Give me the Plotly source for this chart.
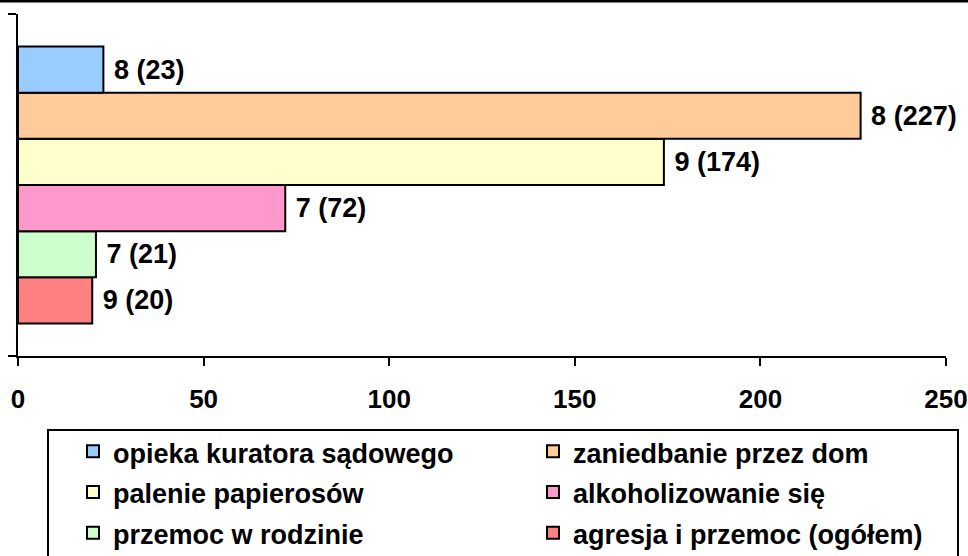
import plotly.graph_objects as go

# Data (top to bottom as displayed)
categories = ["opieka kuratora sądowego", "zaniedbanie przez dom", "palenie papierosów",
              "alkoholizowanie się", "przemoc w rodzinie", "agresja i przemoc (ogółem)"]
values = [23, 227, 174, 72, 21, 20]
counts = [8, 8, 9, 7, 7, 9]
colors = ["#99CCFF", "#FFCC99", "#FFFFCC", "#FF99CC", "#CCFFCC", "#FF8080"]
x_ticks = [0, 50, 100, 150, 200, 250]

W, H = 968, 556
L, R, T, B = 18, 22, 14, 200
PW, PH = W - L - R, H - T - B

def px_x(p):
    return (p - L) / PW

def px_y(p):
    return (H - B - p) / PH

FONT = "Liberation Sans, Arial, sans-serif"

fig = go.Figure()
# plotly draws the first trace at the bottom, so add in reverse order
for name, v, n, c in reversed(list(zip(categories, values, counts, colors))):
    fig.add_trace(go.Bar(
        y=[0], x=[v], orientation="h",
        name=f"<span style='font-size:27px'>{name}</span>",
        marker=dict(color=c, line=dict(color="black", width=2)),
        text=[f" {n} ({v})"], textposition="outside", constraintext="none",
        textfont=dict(family=FONT, size=27, color="black", weight="bold"),
        cliponaxis=False, hoverinfo="skip",
    ))

fig.update_layout(
    width=W, height=H,
    margin=dict(l=L, r=R, t=T, b=B, autoexpand=False),
    paper_bgcolor="white", plot_bgcolor="white",
    barmode="group", bargap=0.19, bargroupgap=0,
    font=dict(family=FONT, size=26, color="black", weight="bold"),
    xaxis=dict(range=[0, 250], tickvals=x_ticks, ticks="outside", ticklen=8, tickwidth=2,
               tickcolor="black", showline=True, linewidth=2, linecolor="black",
               showgrid=False, zeroline=False, ticklabelstandoff=11, automargin=False,
               tickfont=dict(family=FONT, size=26, color="black", weight="bold")),
    yaxis=dict(range=[-0.5, 0.5], tickvals=[-0.5, 0.5], ticks="outside", ticklen=8,
               tickwidth=2, tickcolor="black", showline=True, linewidth=2, linecolor="black",
               showticklabels=False, showgrid=False, zeroline=False, automargin=False),
    showlegend=True,
    legend=dict(orientation="h", traceorder="reversed", x=px_x(73), xanchor="left",
                y=px_y(426), yanchor="top", entrywidth=415, entrywidthmode="pixels",
                bgcolor="rgba(0,0,0,0)", borderwidth=0,
                font=dict(family=FONT, size=29, color="black", weight="bold")),
    shapes=[
        dict(type="line", xref="paper", yref="paper", x0=px_x(0), x1=px_x(W),
             y0=px_y(1), y1=px_y(1), line=dict(color="black", width=3)),
        dict(type="rect", xref="paper", yref="paper", x0=px_x(48), x1=px_x(958),
             y0=px_y(430), y1=px_y(600), line=dict(color="black", width=2),
             fillcolor="rgba(0,0,0,0)"),
    ],
)

fig.write_html("out.html", config={"displayModeBar": False},
               post_script="document.body.style.margin='0';")
